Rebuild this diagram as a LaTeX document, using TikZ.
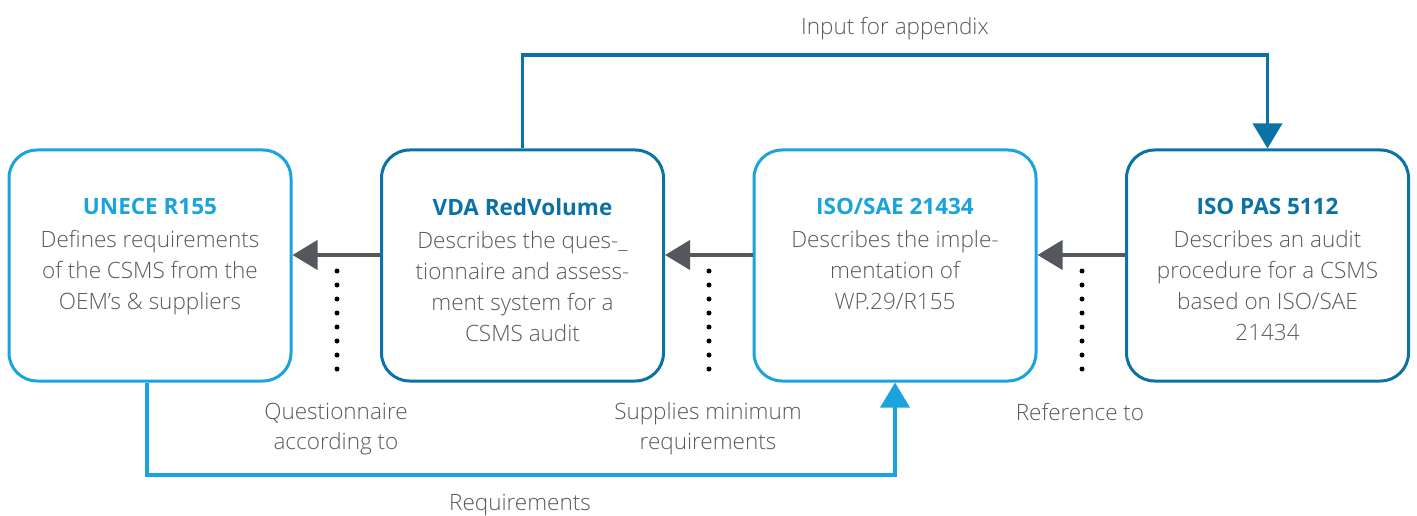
\documentclass[tikz,border=0pt]{standalone}
\usepackage{fontspec}
\setmainfont{Open Sans Light}[BoldFont={Open Sans Bold}]
\usetikzlibrary{arrows.meta}
\definecolor{lblue}{HTML}{1AA3DD}
\definecolor{dblue}{HTML}{0B72A6}
\definecolor{txtgray}{HTML}{58595B}
\definecolor{arrgray}{HTML}{54575B}
\tikzset{
  box/.style={draw, line width=3pt, rounded corners=28pt, minimum width=282pt, minimum height=231pt, inner sep=0pt},
  lbox/.style={box, draw=lblue},
  dbox/.style={box, draw=dblue},
  boxtext/.style={align=center, anchor=north, inner sep=0pt, text=txtgray, font=\fontsize{22.5}{31}\selectfont},
  lbl/.style={align=center, inner sep=0pt, text=txtgray, font=\fontsize{22.5}{30}\selectfont},
  grayarrow/.style={draw=arrgray, line width=4pt, -{Triangle[length=25pt,width=29pt]}},
  bluearrow/.style={line width=3.6pt, -{Triangle[length=25pt,width=29pt]}},
  dots/.style={line width=5pt, line cap=round, dash pattern=on 0pt off 14pt}
}
\begin{document}
\begin{tikzpicture}[x=1pt,y=-1pt]
\useasboundingbox (0,0) rectangle (1417,516);
% boxes
\node[lbox] (b1) at (150,265.5) {};
\node[dbox] (b2) at (522.5,265.5) {};
\node[lbox] (b3) at (895,265.5) {};
\node[dbox] (b4) at (1267.5,265.5) {};
% box texts
\node[boxtext] (t1) at (150,198) {\textcolor{lblue}{\textbf{UNECE R155}}\\[2pt]Defines requirements\\of the CSMS from the\\OEM’s \& suppliers};
\node[boxtext] (t2) at (522.5,198) {\textcolor{dblue}{\textbf{VDA RedVolume}}\\[2pt]Describes the ques-\_\\tionnaire and assess-\\ment system for a\\CSMS audit};
\node[boxtext] (t3) at (895,198) {\textcolor{lblue}{\textbf{ISO/SAE 21434}}\\[2pt]Describes the imple-\\mentation of\\WP.29/R155};
\node[boxtext] (t4) at (1267.5,198) {\textcolor{dblue}{\textbf{ISO PAS 5112}}\\[2pt]Describes an audit\\procedure for a CSMS\\based on ISO/SAE\\21434};
% gray arrows
\draw[grayarrow] ([yshift=10.5pt]b2.west) -- ([yshift=10.5pt]b1.east);
\draw[grayarrow] ([yshift=10.5pt]b3.west) -- ([yshift=10.5pt]b2.east);
\draw[grayarrow] ([yshift=10.5pt]b4.west) -- ([yshift=10.5pt]b3.east);
% dotted lines
\coordinate (d1a) at (337,271); \coordinate (d1b) at (337,383);
\coordinate (d2a) at (709,271); \coordinate (d2b) at (709,383);
\coordinate (d3a) at (1082,271); \coordinate (d3b) at (1082,383);
\draw[dots] (d1a) -- (d1b);
\draw[dots] (d2a) -- (d2b);
\draw[dots] (d3a) -- (d3b);
% blue connectors
\coordinate (bot) at (500,475);
\coordinate (top) at (900,55);
\draw[bluearrow, draw=lblue] ([xshift=-3pt]b1.south) |- (bot) -| (b3.south);
\draw[bluearrow, draw=dblue] (b2.north) |- (top) -| (b4.north);
% labels
\node[lbl] (l1) at (895,29) {Input for appendix};
\node[lbl] (l2) at (336,429) {Questionnaire\\according to};
\node[lbl] (l3) at (708,429) {Supplies minimum\\requirements};
\node[lbl] (l4) at (1080,412) {Reference to};
\node[lbl] (l5) at (520,505) {Requirements};
\end{tikzpicture}
\end{document}
